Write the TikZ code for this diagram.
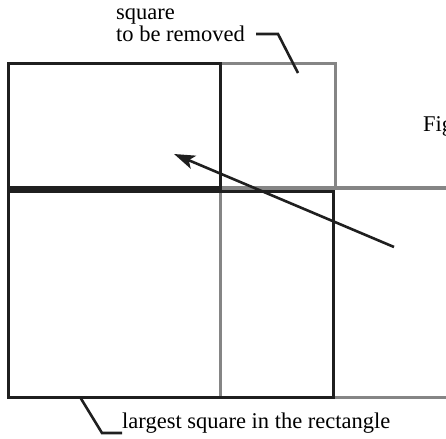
\documentclass[tikz,border=0pt]{standalone}
\usepackage{fontspec}
\setmainfont{Liberation Serif}
\usetikzlibrary{arrows.meta}
\tikzset{
  blackline/.style={line width=3pt, black!88},
  grayline/.style={line width=3pt, black!48},
  leader/.style={line width=2.6pt, black!88},
  lbl/.style={font=\fontsize{22.5}{23}\selectfont, inner sep=0pt, anchor=base west},
}
\begin{document}
\begin{tikzpicture}[x=1pt,y=-1pt]
    \useasboundingbox (0,0) rectangle (446,438);
    \clip (0,0) rectangle (446,438);
    % Coordinate
    \coordinate (A) at (8,64);
    \coordinate (B) at (220,188);
    \coordinate (C) at (335,64);
    \coordinate (D) at (8,191);
    \coordinate (E) at (333,397);
    % Gray lines
    \draw [grayline] (B) -| (C) -- (B |- C);
    \draw [grayline] (C |- B) -- (446,188);
    \draw [grayline] (220,191) -- (220,397);
    \draw [grayline] (E) -- (446,397);
    % Black squares
    \draw [blackline] (A) rectangle (B);
    \draw [blackline] (D) rectangle (E);
    % Arrow
    \coordinate (tail) at (394,247);
    \coordinate (head) at (174,154);
    \draw [leader, -{Stealth[length=21pt, width=14pt, inset=5pt]}] (tail) -- (head);
    % Labels
    \node [lbl] (sq) at (116,20) {square};
    \node [lbl] (removed) at (116,42) {to be removed};
    \node [lbl] (fig) at (423,132) {Fig};
    \node [lbl] (largest) at (122,428) {largest square in the rectangle};
    % Leaders
    \coordinate (r1) at (256,34);
    \coordinate (r2) at (278,34);
    \coordinate (r3) at (298,73);
    \draw [leader] (r1) -- (r2) -- (r3);
    \coordinate (l1) at (80,397);
    \coordinate (l2) at (102,433);
    \draw [leader] (l1) -- (l2) -- (largest.west |- l2);
\end{tikzpicture}
\end{document}
